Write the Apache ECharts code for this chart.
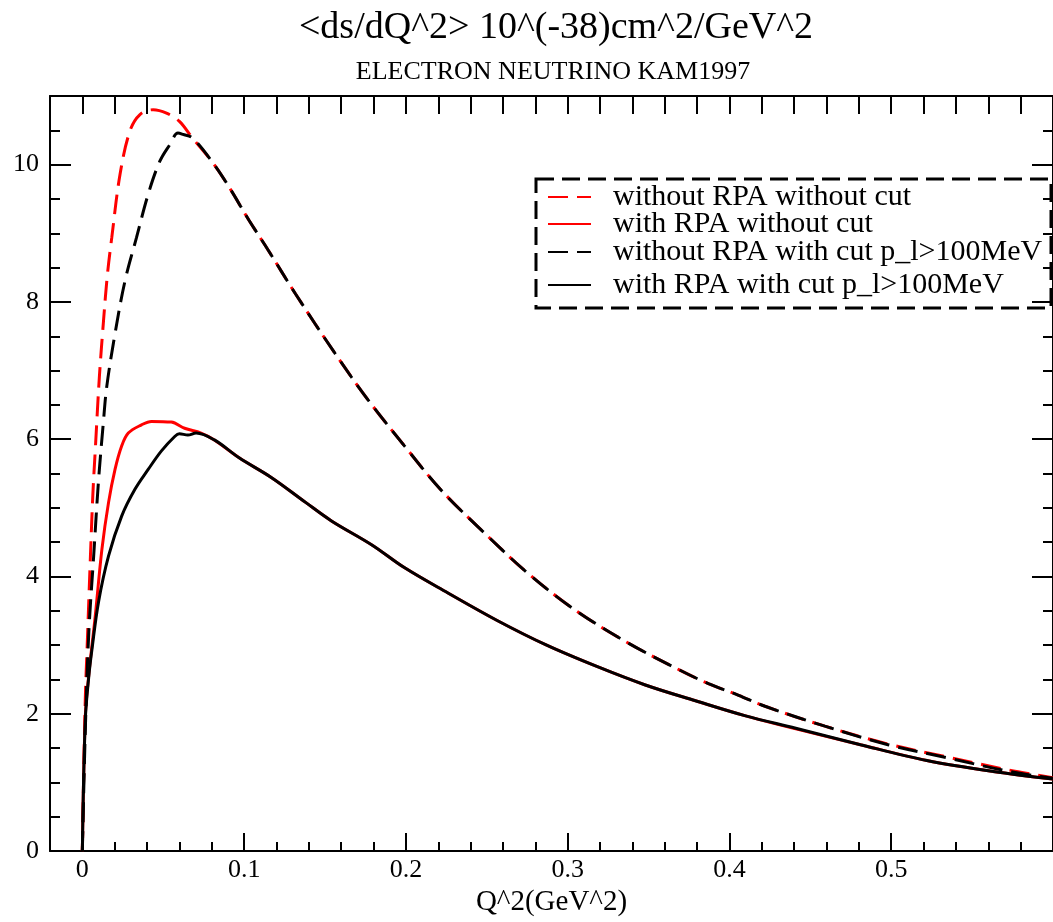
<!DOCTYPE html>
<html><head><meta charset="utf-8">
<script src="https://cdn.jsdelivr.net/npm/echarts@6/dist/echarts.min.js"></script>
<style>html,body{margin:0;padding:0;background:#fff;overflow:hidden}#c{width:1053px;height:922px}</style>
</head><body><div id="c"></div><script>
const titleText = '<ds/dQ^2> 10^(-38)cm^2/GeV^2';
const subtitleText = 'ELECTRON NEUTRINO KAM1997';
const xAxisName = 'Q^2(GeV^2)';
const seriesNames = ['without RPA without cut', 'with RPA without cut', 'without RPA with cut p_l>100MeV', 'with RPA with cut p_l>100MeV'];

const xMajorTicks = [0, 0.1, 0.2, 0.3, 0.4, 0.5, 0.6];
const xLabelTicks = [0, 0.1, 0.2, 0.3, 0.4, 0.5];
const xMinorTicks = [0.02, 0.04, 0.06, 0.08, 0.12, 0.14, 0.16, 0.18, 0.22, 0.24, 0.26, 0.28, 0.32, 0.34, 0.36, 0.38, 0.42, 0.44, 0.46, 0.48, 0.52, 0.54, 0.56, 0.58];
const xTopTicks = [0, 0.02, 0.04, 0.06, 0.08, 0.1, 0.12, 0.14, 0.16, 0.18, 0.2, 0.22, 0.24, 0.26, 0.28, 0.3, 0.32, 0.34, 0.36, 0.38, 0.4, 0.42, 0.44, 0.46, 0.48, 0.5, 0.52, 0.54, 0.56, 0.58];
const yMajorTicks = [0, 2, 4, 6, 8, 10];
const yMinorTicks = [0.5, 1, 1.5, 2.5, 3, 3.5, 4.5, 5, 5.5, 6.5, 7, 7.5, 8.5, 9, 9.5, 10.5];

// without RPA without cut (red dashed)
const noRpaNoCut = [[0,0],[0.0018,2.2],[0.003,3.0],[0.005,4.3],[0.0065,5.2],[0.008,5.85],[0.0105,6.9],[0.0131,7.73],[0.0155,8.4],[0.0182,8.94],[0.0233,9.86],[0.0294,10.49],[0.0356,10.73],[0.0438,10.80],[0.052,10.75],[0.060,10.63],[0.068,10.39],[0.0806,10.03],[0.0908,9.67],[0.103,9.19],[0.115,8.75],[0.1317,8.12],[0.1562,7.25],[0.1767,6.57],[0.1992,5.90],[0.2217,5.26],[0.2483,4.64],[0.2748,4.06],[0.3035,3.53],[0.336,3.05],[0.369,2.64],[0.387,2.44],[0.4057,2.27],[0.422,2.11],[0.459,1.82],[0.498,1.56],[0.5346,1.37],[0.573,1.18],[0.6,1.07]];
// with RPA without cut (red solid)
const rpaNoCut = [[0,0],[0.0018,1.95],[0.0039,2.55],[0.008,3.43],[0.0121,4.40],[0.0162,5.08],[0.0202,5.56],[0.0243,5.90],[0.0284,6.09],[0.0366,6.21],[0.0427,6.26],[0.055,6.25],[0.0632,6.16],[0.0734,6.09],[0.0816,5.99],[0.0969,5.73],[0.117,5.44],[0.138,5.08],[0.154,4.81],[0.179,4.46],[0.199,4.13],[0.226,3.76],[0.2564,3.36],[0.287,3.00],[0.318,2.69],[0.348,2.42],[0.379,2.19],[0.41,1.97],[0.441,1.78],[0.481,1.55],[0.522,1.32],[0.563,1.16],[0.6,1.05]];
// without RPA with cut (black dashed)
const noRpaCut = [[0,0],[0.0018,1.74],[0.004,3.19],[0.007,4.3],[0.010,5.4],[0.013,6.25],[0.0151,6.77],[0.0202,7.54],[0.0264,8.31],[0.0335,8.94],[0.0407,9.57],[0.0479,10.05],[0.054,10.29],[0.0591,10.46],[0.0622,10.44],[0.068,10.39],[0.0806,10.03],[0.0908,9.67],[0.103,9.19],[0.115,8.75],[0.1317,8.12],[0.1562,7.25],[0.1767,6.57],[0.1992,5.90],[0.2217,5.26],[0.2483,4.64],[0.2748,4.06],[0.3035,3.53],[0.336,3.05],[0.369,2.64],[0.387,2.44],[0.4057,2.27],[0.422,2.11],[0.459,1.82],[0.498,1.55],[0.5346,1.36],[0.573,1.16],[0.6,1.06]];
// with RPA with cut (black solid)
const rpaCut = [[0,0],[0.0018,1.9],[0.004,2.55],[0.006,2.95],[0.010,3.63],[0.0162,4.30],[0.0243,4.88],[0.0325,5.27],[0.0407,5.56],[0.0489,5.83],[0.0571,6.04],[0.060,6.08],[0.0652,6.06],[0.0703,6.09],[0.0816,5.99],[0.0969,5.73],[0.117,5.44],[0.138,5.08],[0.154,4.81],[0.179,4.46],[0.199,4.13],[0.226,3.76],[0.2564,3.36],[0.287,3.00],[0.318,2.69],[0.348,2.42],[0.379,2.19],[0.41,1.97],[0.441,1.79],[0.481,1.55],[0.522,1.32],[0.563,1.16],[0.6,1.05]];

const FONT = "'Liberation Serif', 'Times New Roman', serif";
const legendTops = [182, 209, 237, 270];
const seriesData = [noRpaNoCut, rpaNoCut, noRpaCut, rpaCut];
const seriesColors = ['#ff0000', '#ff0000', '#000000', '#000000'];
const seriesDash = [[20, 9], 'solid', [20, 9], 'solid'];

const chart = echarts.init(document.getElementById('c'), null, {renderer: 'canvas', width: 1053, height: 922});
const XMIN = -0.02, XMAX = 0.6, YMIN = 0, YMAX = 11;
function xAx(pos, ticks, len, opts) {
  return Object.assign({
    type: 'value', position: pos, min: XMIN, max: XMAX, gridIndex: 0,
    axisLine: {show: true, onZero: false, lineStyle: {color: '#000', width: 2}}, splitLine: {show: false},
    axisTick: {show: true, inside: true, length: len, customValues: ticks, lineStyle: {color: '#000', width: 2}},
    axisLabel: {show: false}
  }, opts || {});
}
function yAx(pos, ticks, len, opts) {
  return Object.assign({
    type: 'value', position: pos, min: YMIN, max: YMAX, gridIndex: 0,
    axisLine: {show: true, onZero: false, lineStyle: {color: '#000', width: 2}}, splitLine: {show: false},
    axisTick: {show: true, inside: true, length: len, customValues: ticks, lineStyle: {color: '#000', width: 2}},
    axisLabel: {show: false}
  }, opts || {});
}
const hiddenLine = {show: false, onZero: false};

const option = {
  backgroundColor: '#fff',
  animation: false,
  grid: {left: 50, width: 1010, top: 96, height: 761, containLabel: false},
  graphic: [
    {type: 'text', x: 556, y: 28, style: {text: titleText, font: '38px ' + FONT, fill: '#000', textAlign: 'center', textVerticalAlign: 'middle'}},
    {type: 'text', x: 553, y: 72, style: {text: subtitleText, font: '26px ' + FONT, fill: '#000', textAlign: 'center', textVerticalAlign: 'middle'}},
    {type: 'rect', shape: {x: 536, y: 179, width: 515, height: 129}, style: {fill: 'transparent', stroke: '#000', lineWidth: 3, lineDash: [18, 8]}, z: 10}
  ],
  legend: seriesNames.map((n, i) => ({
    data: [n], left: 547, top: legendTops[i], padding: 0, itemWidth: 43, itemHeight: 14,
    selectedMode: false, itemStyle: {opacity: 0},
    textStyle: {fontSize: 30, fontFamily: FONT, color: '#000', padding: [0, 0, 0, 17]}
  })),
  xAxis: [
    xAx('bottom', xMajorTicks, 18, {
      name: xAxisName, nameLocation: 'middle', nameGap: 35,
      nameTextStyle: {fontSize: 29, fontFamily: FONT, color: '#000'},
      axisLabel: {show: true, customValues: xLabelTicks, fontSize: 26, fontFamily: FONT, color: '#000', margin: 6}
    }),
    xAx('bottom', xMinorTicks, 9, {axisLine: hiddenLine}),
    xAx('top', xTopTicks, 18)
  ],
  yAxis: [
    yAx('left', yMajorTicks, 21, {
      axisLabel: {show: true, customValues: yMajorTicks, fontSize: 26, fontFamily: FONT, color: '#000', margin: 11}
    }),
    yAx('left', yMinorTicks, 10, {axisLine: hiddenLine}),
    yAx('right', yMajorTicks, 21),
    yAx('right', yMinorTicks, 10, {axisLine: hiddenLine})
  ],
  series: seriesNames.map((n, i) => ({
    name: n, type: 'line', data: seriesData[i], xAxisIndex: 0, yAxisIndex: 0,
    showSymbol: false, symbol: 'none', smooth: 0.35, clip: true,
    lineStyle: {color: seriesColors[i], width: 3, type: seriesDash[i]},
    itemStyle: {color: seriesColors[i]}
  }))
};
chart.setOption(option);
</script></body></html>
